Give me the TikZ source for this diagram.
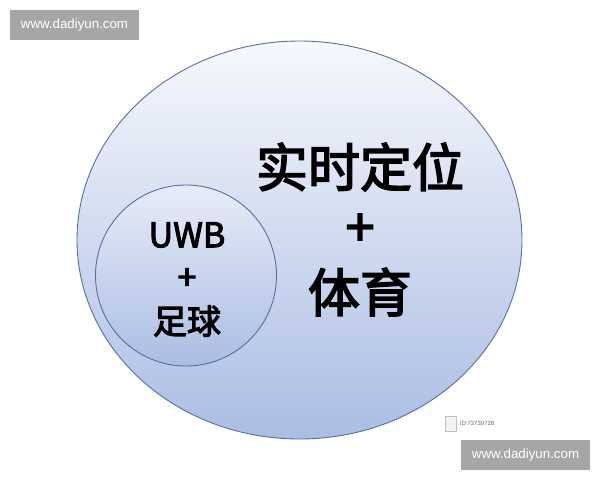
\documentclass[tikz,border=0pt]{standalone}
\usepackage{fontspec}
\usepackage{tikz}
\usetikzlibrary{shapes.geometric, positioning}
\setmainfont{Liberation Sans}
\newfontfamily\cjk[FakeBold=3]{Noto Sans CJK SC}
\definecolor{ringline}{HTML}{5A6E9E}
\definecolor{shadetop}{HTML}{F6F8FC}
\definecolor{shadebottom}{HTML}{AABDE3}
\definecolor{markgray}{HTML}{A6A6A6}
\tikzstyle{bigring} = [ellipse, minimum width=445pt, minimum height=398pt, inner sep=0pt, draw=ringline, line width=0.9pt, top color=shadetop, bottom color=shadebottom]
\tikzstyle{smallring} = [circle, minimum size=181pt, inner sep=0pt, draw=ringline, line width=0.9pt, top color=shadetop!80!shadebottom, bottom color=shadebottom]
\tikzstyle{bigtext} = [inner sep=0pt, font=\cjk\fontsize{52}{58}\selectfont]
\tikzstyle{smalltext} = [inner sep=0pt, font=\cjk\fontsize{34}{40}\selectfont]
\tikzstyle{watermark} = [rectangle, minimum width=129pt, minimum height=30pt, fill=markgray, text=white, font=\fontsize{13.3}{15}\selectfont]
\begin{document}
\begin{tikzpicture}[x=1pt, y=-1pt]
    \useasboundingbox (0,0) rectangle (600,480);
    \node (Field) [bigring] at (299.5,240) {};
    \node (Pitch) [smallring] at (186,275.5) {};
    \node (Locate) [bigtext] at (360,167) {实时定位};
    \node (LocatePlus) [bigtext, below of = Locate, node distance=63pt] {+};
    \node (Sport) [bigtext, below of = LocatePlus, node distance=62pt] {体育};
    \node (Uwb) [smalltext] at (187,235) {UWB};
    \node (UwbPlus) [smalltext, below of = Uwb, node distance=44pt] {+};
    \node (Soccer) [smalltext, below of = UwbPlus, node distance=42pt] {足球};
    \node (MarkTop) [watermark] at (74.5,25) {www.dadiyun.com};
    \node (MarkBottom) [watermark] at (525.5,455) {www.dadiyun.com};
    \node (Badge) [rectangle, draw=black!25, fill=black!5, minimum width=11pt, minimum height=15pt, inner sep=0pt] at (451,423.5) {};
    \node (BadgeId) [right = 3pt of Badge, inner sep=0pt, text=black!60, font=\fontsize{6}{7}\selectfont] {ID:72739728};
\end{tikzpicture}
\end{document}
